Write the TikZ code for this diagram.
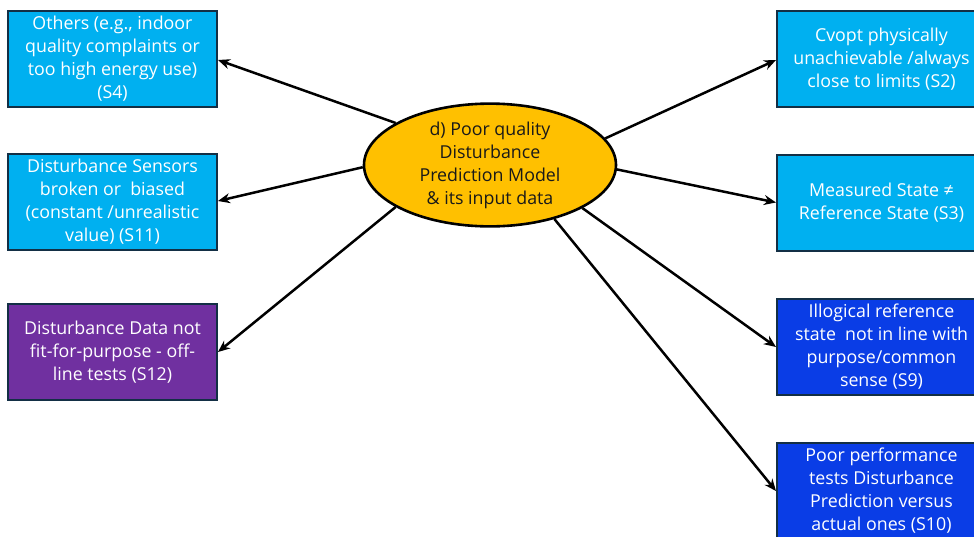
\documentclass[tikz,border=0pt]{standalone}
\usepackage{fontspec}
\setmainfont{Open Sans}
\usetikzlibrary{shapes.geometric,arrows.meta}
\definecolor{skyfill}{HTML}{00B0F0}
\definecolor{royalfill}{HTML}{0A3DE6}
\definecolor{purplefill}{HTML}{7030A0}
\definecolor{ambfill}{HTML}{FFC000}
\definecolor{boxedge}{HTML}{132F45}
\tikzset{
  every node/.style={font=\fontsize{17.8pt}{23pt}\selectfont},
  causebox/.style={draw=boxedge, line width=2pt, minimum width=209pt,
    minimum height=96pt, inner sep=0pt, align=center, text=white},
  sky/.style={causebox, fill=skyfill},
  royal/.style={causebox, fill=royalfill},
  violet/.style={causebox, fill=purplefill},
  hub/.style={ellipse, draw=black, line width=2.6pt, fill=ambfill,
    minimum width=252pt, minimum height=116pt, inner sep=0pt,
    align=center, text=black!90},
  link/.style={line width=2.5pt, -{Stealth[length=12pt,width=10pt]}}
}
\begin{document}
\begin{tikzpicture}[x=1pt,y=-1pt]
\clip (0,0) rectangle (974,536);
\fill[white] (0,0) rectangle (974,536);

% central problem
\node[hub] (core) at (490,165) {d) Poor quality\\Disturbance\\Prediction Model\\\& its input data};

% left-hand symptoms
\node[sky] (s4) at (112.5,59) {Others (e.g., indoor\\quality complaints or\\too high energy use)\\(S4)};
\node[sky] (s11) at (112.5,202) {Disturbance Sensors\\broken or\ \ biased\\(constant /unrealistic\\value) (S11)};
\node[violet] (s12) at (112.5,352) {Disturbance Data not\\fit-for-purpose - off-\\line tests (S12)};

% right-hand symptoms
\node[sky] (s2) at (881.5,59) {Cvopt physically\\unachievable /always\\close to limits (S2)};
\node[sky] (s3) at (881.5,202.5) {Measured State ≠\\Reference State (S3)};
\node[royal] (s9) at (881.5,347) {Illogical reference\\state\ \ not in line with\\purpose/common\\sense (S9)};
\node[royal] (s10) at (881.5,491) {Poor performance\\tests Disturbance\\Prediction versus\\actual ones (S10)};

% connectors
\draw[link] (core.156) -- (s4.east |- 0,60);
\draw[link] (core.181) -- (s11.east |- 0,201);
\draw[link] (core.204) -- (s12.east);
\draw[link] (core.13) -- (s2.west |- 0,60);
\draw[link] (core.358) -- (s3.west);
\draw[link] (core.335) -- (s9.west);
\draw[link] (core.320) -- (s10.west);
\end{tikzpicture}
\end{document}
